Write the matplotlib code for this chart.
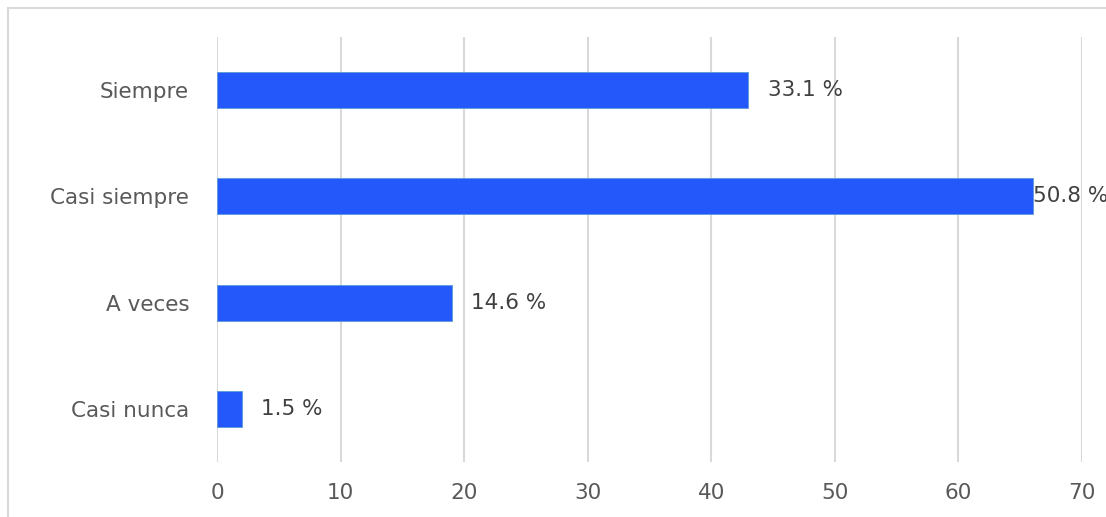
import matplotlib.pyplot as plt
from matplotlib.patches import Rectangle

categorias = ['Casi nunca', 'A veces', 'Casi siempre', 'Siempre']
frecuencias = [2, 19, 66, 43]
etiquetas = ['1.5 %', '14.6 %', '50.8 %', '33.1 %']

plt.rcParams['font.family'] = ['DejaVu Sans']

fig = plt.figure(figsize=(11.06, 5.17), dpi=100)
ax = fig.add_axes([217/1106, 1 - 462/517, 865/1106, 425/517])

# light frame round the chart
fig.patches.append(Rectangle((8/1106, -0.1), 1.2, 1 - 8/517 + 0.1, transform=fig.transFigure,
                             fill=False, edgecolor='#d9d9d9', linewidth=1.5))

bars = ax.barh(categorias, frecuencias, height=0.34, color='#2458fb', edgecolor='#5b9bd5', linewidth=0.6)
for b, txt, v in zip(bars, etiquetas, frecuencias):
    pad = 0 if v > 60 else 14
    ax.annotate(txt, (b.get_width(), b.get_y() + b.get_height() / 2), xytext=(pad, 0),
                textcoords='offset points', va='center', ha='left', fontsize=15.5, color='#404040')

ax.set_xlim(0, 70)
ax.set_ylim(-0.5, 3.5)
ax.set_xticks(range(0, 71, 10))
ax.grid(axis='x', color='#d9d9d9', linewidth=1.5)
ax.set_axisbelow(True)
for s in ax.spines.values():
    s.set_visible(False)
ax.tick_params(length=0, labelsize=15.5, labelcolor='#595959')
ax.tick_params(axis='x', pad=15)
ax.tick_params(axis='y', pad=20)

fig.savefig('out.png', dpi=100)
